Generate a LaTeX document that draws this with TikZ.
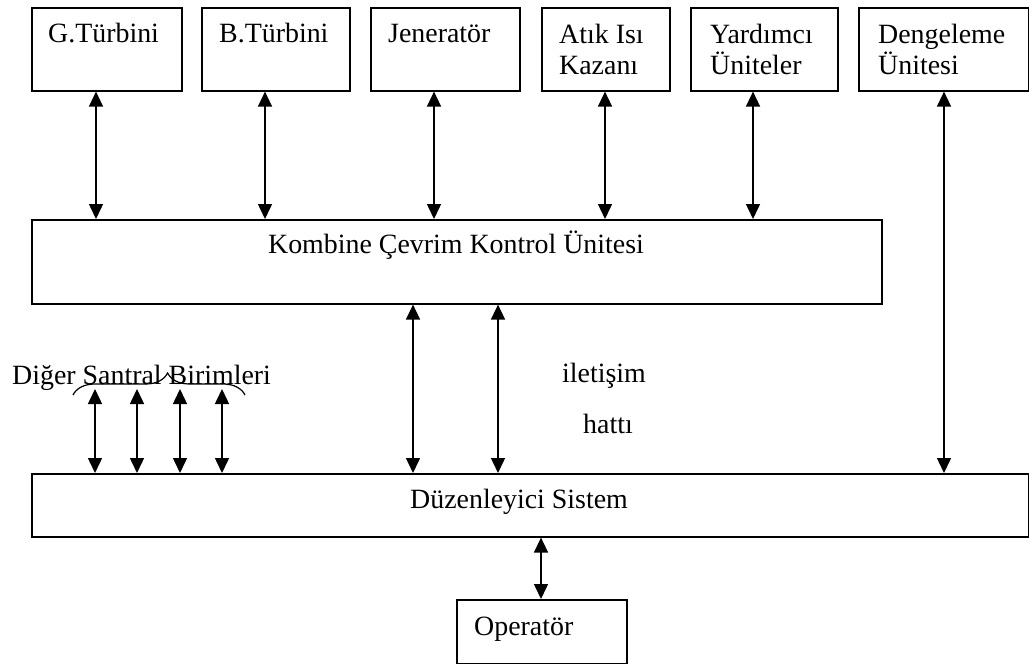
\documentclass[tikz,border=0pt]{standalone}
\usepackage{fontspec}
\setmainfont{Liberation Serif}
\usetikzlibrary{arrows.meta,decorations.pathreplacing}
\begin{document}
\begin{tikzpicture}[x=1bp,y=-1bp,
  box/.style={draw, line width=1.6bp, inner sep=0pt, anchor=north west},
  txt/.style={anchor=base west, inner sep=0pt, align=left,
    font=\fontsize{28}{32}\selectfont},
  conn/.style={line width=1.5bp,
    {Triangle[width=14bp,length=15bp]}-{Triangle[width=14bp,length=15bp]}},
  bracket/.style={line width=1.2bp, decorate,
    decoration={brace, amplitude=22bp, aspect=0.55}}
]
\useasboundingbox (0,0) rectangle (1029,664);

% top row of units
\node[box, minimum width=150bp, minimum height=83bp] (gt)   at (31,7)  {};
\node[box, minimum width=148bp, minimum height=83bp] (bt)   at (201,7) {};
\node[box, minimum width=149bp, minimum height=83bp] (jen)  at (370,7) {};
\node[box, minimum width=128bp, minimum height=83bp] (atik) at (541,7) {};
\node[box, minimum width=147bp, minimum height=83bp] (yard) at (690,7) {};
\node[box, minimum width=170bp, minimum height=83bp] (deng) at (858,7) {};

% single-line labels sit on the first baseline, two-line ones on the second
\node[txt] (gtT)   at (48,43)  {G.Türbini};
\node[txt] (btT)   at (219,43) {B.Türbini};
\node[txt] (jenT)  at (388,43) {Jeneratör};
\node[txt] (atikT) at (559,75) {Atık Isı\\Kazanı};
\node[txt] (yardT) at (710,75) {Yardımcı\\Üniteler};
\node[txt] (dengT) at (878,75) {Dengeleme\\Ünitesi};

% control unit, regulator, operator
\node[box, minimum width=850bp, minimum height=84bp] (kcu) at (31,219)  {};
\node[box, minimum width=997bp, minimum height=63bp] (duz) at (31,473)  {};
\node[box, minimum width=170bp, minimum height=64bp] (op)  at (456,599) {};

\node[txt, anchor=base] (kcuT) at (456,253) {Kombine Çevrim Kontrol Ünitesi};
\node[txt] (duzT) at (410,508) {Düzenleyici Sistem};
\node[txt] (opT)  at (474,635) {Operatör};

% side labels
\node[txt] (diger) at (12,384) {Diğer Santral Birimleri};
\node[txt] (ilet)  at (562,382) {iletişim};
\node[txt] (hat)   at (583,433) {hattı};

% links between the top units and the control unit
\draw[conn] ([xshift=65bp]gt.south west)   -- ([xshift=65bp]gt.south west |- kcu.north);
\draw[conn] ([xshift=64bp]bt.south west)   -- ([xshift=64bp]bt.south west |- kcu.north);
\draw[conn] ([xshift=64bp]jen.south west)  -- ([xshift=64bp]jen.south west |- kcu.north);
\draw[conn] ([xshift=64bp]atik.south west) -- ([xshift=64bp]atik.south west |- kcu.north);
\draw[conn] ([xshift=63bp]yard.south west) -- ([xshift=63bp]yard.south west |- kcu.north);
\draw[conn] ([xshift=86bp]deng.south west) -- ([xshift=86bp]deng.south west |- duz.north);

% communication line between control unit and regulator
\draw[conn] ([xshift=382bp]kcu.south west) -- ([xshift=382bp]kcu.south west |- duz.north);
\draw[conn] ([xshift=467bp]kcu.south west) -- ([xshift=467bp]kcu.south west |- duz.north);

% operator
\draw[conn] ([xshift=85bp]op.north west) -- ([xshift=85bp]op.north west |- duz.south);

% other plant units
\coordinate (d1) at (95,389);
\coordinate (d2) at (137,389);
\coordinate (d3) at (180,389);
\coordinate (d4) at (222,389);
\foreach \d in {d1,d2,d3,d4}
  \draw[conn] (\d) -- (\d |- duz.north);
\draw[bracket] (73,395) -- (245,395);
\end{tikzpicture}
\end{document}
